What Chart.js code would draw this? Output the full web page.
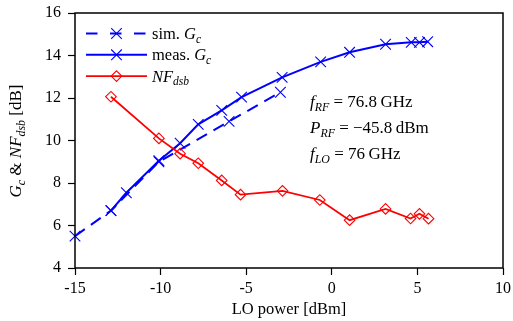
<!DOCTYPE html>
<html>
<head>
<meta charset="utf-8">
<script src="https://cdn.jsdelivr.net/npm/chart.js@4.4.0/dist/chart.umd.min.js"></script>
<style>
  html, body { margin: 0; padding: 0; background: #fff; }
  #wrap { width: 513px; height: 321px; }
</style>
</head>
<body>
<div id="wrap"><canvas id="chart"></canvas></div>
<script>
// values
const simX = [-15, -12.9, -10.1, -6, -3];
const simGc = [5.5, 6.7, 9.0, 10.9, 12.27];

const measX = [-12.9, -12, -10.1, -8.86, -7.8, -6.43, -5.27, -2.9, -0.65, 1.04, 3.14, 4.64, 5.12, 5.6];
const measGc = [6.7, 7.54, 9.05, 9.87, 10.76, 11.42, 12.04, 12.97, 13.7, 14.15, 14.53, 14.62, 14.62, 14.65];

const nfX = [-12.9, -10.1, -8.86, -7.8, -6.43, -5.33, -2.88, -0.7, 1.04, 3.14, 4.6, 5.12, 5.65];
const nfDsb = [12.06, 10.1, 9.38, 8.93, 8.12, 7.45, 7.63, 7.2, 6.25, 6.78, 6.33, 6.55, 6.32];

const xTicks = [-15, -10, -5, 0, 5, 10];
const yTicks = [4, 6, 8, 10, 12, 14, 16];

// rich text pieces: [text, style]  r = roman, i = italic, is = italic subscript
const legendLabels = [
    [['sim. ', 'r'], ['G', 'i'], ['c', 'is']],
    [['meas. ', 'r'], ['G', 'i'], ['c', 'is']],
    [['NF', 'i'], ['dsb', 'is']]
];
const noteLines = [
    [['f', 'i'], ['RF', 'is'], [' = 76.8\u2009GHz', 'r']],
    [['P', 'i'], ['RF', 'is'], [' = \u221245.8\u2009dBm', 'r']],
    [['f', 'i'], ['LO', 'is'], [' = 76\u2009GHz', 'r']]
];
const yTitle = [['G', 'i'], ['c', 'is'], [' & ', 'r'], ['NF', 'i'], ['dsb', 'is'], [' [dB]', 'r']];
const xTitle = [['LO power [dBm]', 'r']];

const SERIF = '"Liberation Serif", "Times New Roman", serif';
const BLUE = '#0000ff';
const RED = '#ff0000';

function toPts(xs, ys) {
    return xs.map((x, i) => ({ x: x, y: ys[i] }));
}

function setFont(ctx, style, size) {
    const sub = style.endsWith('s') && style.length > 1;
    const italic = style.startsWith('i');
    const s = sub ? size * 0.7 : size;
    ctx.font = (italic ? 'italic ' : '') + s + 'px ' + SERIF;
    return sub ? size * 0.22 : 0;
}

function richWidth(ctx, parts, size) {
    let w = 0;
    parts.forEach(p => { setFont(ctx, p[1], size); w += ctx.measureText(p[0]).width; });
    return w;
}

function drawRich(ctx, parts, x, y, size, align) {
    let cx = x;
    if (align === 'center') cx = x - richWidth(ctx, parts, size) / 2;
    ctx.textAlign = 'left';
    ctx.textBaseline = 'alphabetic';
    parts.forEach(p => {
        const dy = setFont(ctx, p[1], size);
        ctx.fillText(p[0], cx, y + dy);
        cx += ctx.measureText(p[0]).width;
    });
}

function drawCross(ctx, x, y, r) {
    const d = r * Math.SQRT1_2;
    ctx.beginPath();
    ctx.moveTo(x - d, y - d); ctx.lineTo(x + d, y + d);
    ctx.moveTo(x - d, y + d); ctx.lineTo(x + d, y - d);
    ctx.stroke();
}

function drawDiamond(ctx, x, y, r) {
    ctx.beginPath();
    ctx.moveTo(x, y - r); ctx.lineTo(x + r, y);
    ctx.lineTo(x, y + r); ctx.lineTo(x - r, y);
    ctx.closePath();
    ctx.stroke();
}

const decor = {
    id: 'decor',
    afterDraw(chart) {
        const ctx = chart.ctx;
        const a = chart.chartArea;
        ctx.save();

        // frame
        ctx.strokeStyle = '#000';
        ctx.lineWidth = 1.5;
        ctx.strokeRect(a.left, a.top, a.right - a.left, a.bottom - a.top);

        ctx.fillStyle = '#000';
        // axis titles
        drawRich(ctx, xTitle, (a.left + a.right) / 2, 314, 16.5, 'center');
        ctx.save();
        ctx.translate(21, 141);
        ctx.rotate(-Math.PI / 2);
        drawRich(ctx, yTitle, 0, 0, 17, 'center');
        ctx.restore();

        // legend
        const ds = chart.data.datasets;
        [0, 1, 2].forEach((k, i) => {
            const d = ds[k];
            const y = 33.5 + i * 21.3;
            ctx.strokeStyle = d.borderColor;
            ctx.lineWidth = d.borderWidth;
            ctx.setLineDash(d.borderDash ? [11.5, 12.5] : []);
            ctx.beginPath();
            ctx.moveTo(86, y); ctx.lineTo(147, y);
            ctx.stroke();
            ctx.setLineDash([]);
            ctx.lineWidth = d.pointBorderWidth;
            if (d.pointStyle === 'crossRot') drawCross(ctx, 116.5, y, d.pointRadius);
            else drawDiamond(ctx, 116.5, y, d.pointRadius);
            ctx.fillStyle = '#000';
            drawRich(ctx, legendLabels[i], 152, y + 5.5, 16.5, 'left');
        });

        // operating point note
        ctx.fillStyle = '#000';
        noteLines.forEach((ln, i) => {
            drawRich(ctx, ln, 310, 107 + i * 26, 17, 'left');
        });

        ctx.restore();
    }
};

const tickFont = { family: SERIF, size: 16 };

new Chart(document.getElementById('chart'), {
    type: 'scatter',
    data: {
        datasets: [
            {
                label: 'sim. Gc',
                data: toPts(simX, simGc),
                showLine: true,
                borderColor: BLUE,
                borderWidth: 2,
                borderDash: [12, 7.5],
                pointStyle: 'crossRot',
                pointRadius: 7.5,
                pointBorderWidth: 1.1,
                pointBorderColor: BLUE,
                backgroundColor: BLUE,
                order: 3,
                clip: false
            },
            {
                label: 'meas. Gc',
                data: toPts(measX, measGc),
                showLine: true,
                borderColor: BLUE,
                borderWidth: 2,
                pointStyle: 'crossRot',
                pointRadius: 7.5,
                pointBorderWidth: 1.1,
                pointBorderColor: BLUE,
                backgroundColor: BLUE,
                order: 2,
                clip: false
            },
            {
                label: 'NFdsb',
                data: toPts(nfX, nfDsb),
                showLine: true,
                borderColor: RED,
                borderWidth: 1.8,
                pointStyle: 'rectRot',
                pointRadius: 5.3,
                pointBorderWidth: 1.1,
                pointBorderColor: RED,
                pointBackgroundColor: 'rgba(0,0,0,0)',
                backgroundColor: 'rgba(0,0,0,0)',
                order: 1,
                clip: false
            }
        ]
    },
    options: {
        responsive: true,
        maintainAspectRatio: false,
        animation: false,
        layout: { padding: { top: 13, right: 10, left: 0, bottom: 0 } },
        plugins: {
            legend: { display: false },
            tooltip: { enabled: false }
        },
        scales: {
            x: {
                type: 'linear',
                min: -15,
                max: 10,
                afterBuildTicks: s => { s.ticks = xTicks.map(v => ({ value: v })); },
                afterFit: s => { s.height = 53; s.paddingLeft = 0; s.paddingRight = 0; },
                ticks: { font: tickFont, color: '#000', padding: 4, maxRotation: 0 },
                grid: { drawOnChartArea: false, tickLength: 7, tickColor: '#000', tickWidth: 1.2 },
                border: { display: false }
            },
            y: {
                type: 'linear',
                min: 4,
                max: 16,
                afterBuildTicks: s => { s.ticks = yTicks.map(v => ({ value: v })); },
                afterFit: s => { s.width = 75; s.paddingTop = 0; s.paddingBottom = 0; },
                ticks: { font: tickFont, color: '#000', padding: 7 },
                grid: { drawOnChartArea: false, tickLength: 7, tickColor: '#000', tickWidth: 1.2 },
                border: { display: false }
            }
        }
    },
    plugins: [decor]
});
</script>
</body>
</html>
